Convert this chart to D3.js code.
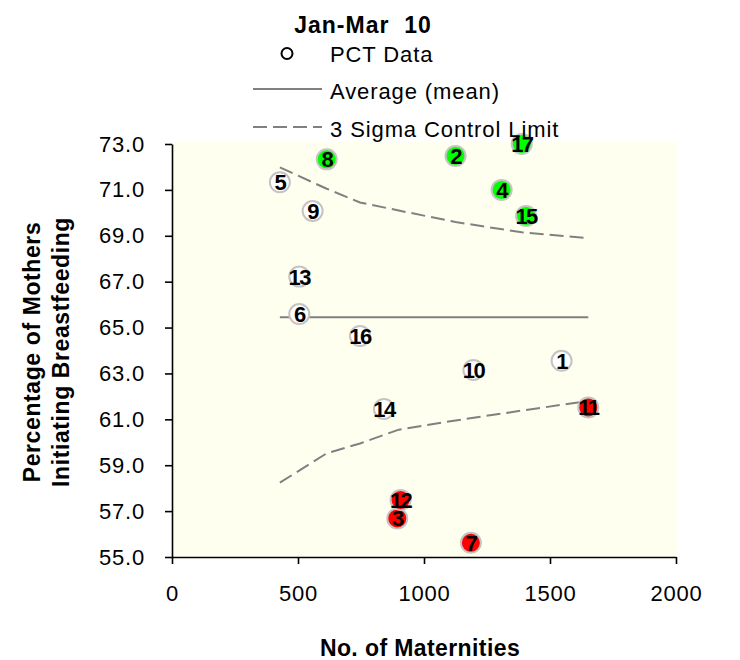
<!DOCTYPE html>
<html>
<head>
<meta charset="utf-8">
<script src="https://cdn.jsdelivr.net/npm/d3@7"></script>
<style>
  body { margin: 0; background: #ffffff; }
  svg { display: block; font-family: "Liberation Sans", Arial, sans-serif; }
</style>
</head>
<body>
<svg id="chart" width="740" height="660"></svg>
<script>
// ---- data ----
const chartTitle = "Jan-Mar  10";
const xTitle = "No. of Maternities";
const yTitleLines = ["Percentage of Mothers", "Initiating Breastfeeding"];
const legendLabels = ["PCT Data", "Average (mean)", "3 Sigma Control Limit"];

const pointIds     = [1, 2, 3, 4, 5, 6, 7, 8, 9, 10, 11, 12, 13, 14, 15, 16, 17];
const maternities  = [1546, 1125, 894, 1308, 428, 505, 1186, 614, 558, 1196, 1652, 907, 505, 841, 1405, 746, 1388];
const percentages  = [63.55, 72.48, 56.68, 71.00, 71.33, 65.59, 55.62, 72.33, 70.08, 63.15, 61.52, 57.48, 67.22, 61.45, 69.86, 64.63, 73.00];
const pointStatus  = ["in", "above", "below", "above", "in", "in", "below", "above", "in", "in", "below", "below", "in", "in", "above", "in", "above"];

const meanValue = 65.45;
const meanRange = [428, 1652];

const limitX     = [428, 614, 746, 900, 1125, 1388, 1652];
const upperLimit = [71.98, 71.05, 70.45, 70.10, 69.60, 69.15, 68.90];
const lowerLimit = [58.24, 59.52, 59.95, 60.55, 60.95, 61.38, 61.80];

const xTicks = [0, 500, 1000, 1500, 2000];
const yTicks = [55, 57, 59, 61, 63, 65, 67, 69, 71, 73];

// ---- layout ----
const svg = d3.select("#chart");
const x = d3.scaleLinear().domain([0, 2000]).range([172, 676]);
const y = d3.scaleLinear().domain([55, 73]).range([557, 144]);
const statusFill = { in: "#ffffff", above: "#00ff00", below: "#ff0000" };

// plot background
svg.append("rect")
  .attr("x", x(0)).attr("y", y(73) - 2)
  .attr("width", x(2000) - x(0) + 1).attr("height", y(55) - y(73) + 2)
  .attr("fill", "#fffff0");

// mean line
svg.append("line")
  .attr("x1", x(meanRange[0])).attr("x2", x(meanRange[1]))
  .attr("y1", y(meanValue)).attr("y2", y(meanValue))
  .attr("stroke", "#808080").attr("stroke-width", 2);

// control limits
const limitLine = d3.line().x((d, i) => x(limitX[i])).y(d => y(d));
[upperLimit, lowerLimit].forEach(arr => {
  svg.append("path")
    .attr("d", limitLine(arr))
    .attr("fill", "none")
    .attr("stroke", "#808080").attr("stroke-width", 2)
    .attr("stroke-dasharray", "14,6");
});

// axes
const yAxis = d3.axisLeft(y).tickValues(yTicks).tickFormat(d3.format(".1f")).tickSize(7).tickSizeOuter(0);
const yg = svg.append("g").attr("transform", `translate(${x(0)},0)`).call(yAxis);
yg.selectAll("text").attr("x", -27).attr("font-size", 22).attr("letter-spacing", "0.8px")
  .attr("fill", "#000").attr("font-family", '"Liberation Sans", Arial, sans-serif');

const xAxis = d3.axisBottom(x).tickValues(xTicks).tickFormat(d3.format("d")).tickSize(7).tickSizeOuter(0);
const xg = svg.append("g").attr("transform", `translate(0,${y(55)})`).call(xAxis);
xg.selectAll("text").attr("y", 28).attr("font-size", 22).attr("letter-spacing", "0.8px")
  .attr("fill", "#000").attr("font-family", '"Liberation Sans", Arial, sans-serif');

[yg, xg].forEach(g => {
  g.select(".domain").attr("stroke", "#000").attr("stroke-width", 1.6);
  g.selectAll(".tick line").attr("stroke", "#000").attr("stroke-width", 1.6);
});

// points
const pts = pointIds.map((id, i) => ({ id, n: maternities[i], p: percentages[i], s: pointStatus[i] }));
const pg = svg.append("g");
pg.selectAll("circle").data(pts).join("circle")
  .attr("cx", d => x(d.n)).attr("cy", d => y(d.p)).attr("r", 10)
  .attr("fill", d => statusFill[d.s])
  .attr("stroke", "#c4c4c4").attr("stroke-width", 2);
pg.selectAll("text").data(pts).join("text")
  .attr("x", d => x(d.n)).attr("y", d => y(d.p))
  .attr("dy", "0.36em")
  .attr("text-anchor", "middle")
  .attr("font-size", 22).attr("font-weight", "bold")
  .attr("letter-spacing", "-1.6px")
  .attr("fill", "#000")
  .text(d => d.id);

// title
svg.append("text")
  .attr("x", 363).attr("y", 33)
  .attr("text-anchor", "middle")
  .attr("font-size", 23).attr("font-weight", "bold")
  .attr("letter-spacing", "1px")
  .style("white-space", "pre")
  .text(chartTitle);

// legend
const lg = svg.append("g");
lg.append("circle").attr("cx", 287).attr("cy", 53.5).attr("r", 5.5)
  .attr("fill", "#fff").attr("stroke", "#000").attr("stroke-width", 2);
lg.append("line").attr("x1", 253).attr("x2", 322).attr("y1", 89).attr("y2", 89)
  .attr("stroke", "#808080").attr("stroke-width", 2);
lg.append("line").attr("x1", 253).attr("x2", 322).attr("y1", 127).attr("y2", 127)
  .attr("stroke", "#808080").attr("stroke-width", 2).attr("stroke-dasharray", "14,6");
const legendY = [62, 99, 137];
legendLabels.forEach((t, i) => {
  lg.append("text").attr("x", 330).attr("y", legendY[i])
    .attr("font-size", 22).attr("letter-spacing", "0.9px")
    .attr("fill", "#000").text(t);
});

// axis titles
svg.append("text")
  .attr("x", 420).attr("y", 656)
  .attr("text-anchor", "middle")
  .attr("font-size", 23).attr("font-weight", "bold").attr("letter-spacing", "0.4px")
  .text(xTitle);

const yt = svg.append("text")
  .attr("transform", "translate(0,352) rotate(-90)")
  .attr("text-anchor", "middle")
  .attr("font-size", 23).attr("font-weight", "bold").attr("letter-spacing", "0.6px");
yt.append("tspan").attr("x", 0).attr("y", 40).text(yTitleLines[0]);
yt.append("tspan").attr("x", 0).attr("y", 69).text(yTitleLines[1]);
</script>
</body>
</html>
